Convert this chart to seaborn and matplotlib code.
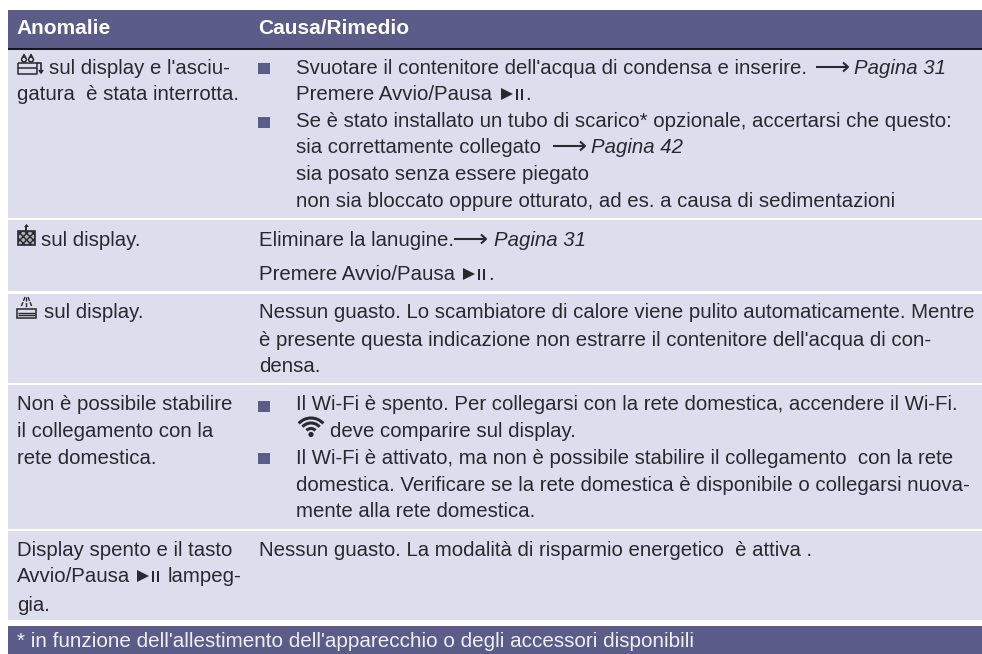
import matplotlib
matplotlib.use("Agg")
import matplotlib.pyplot as plt
from matplotlib.patches import Arc, Circle, Polygon, Rectangle
import seaborn as sns

sns.set_theme(style="white")
plt.rcParams["font.family"] = ["Liberation Sans", "DejaVu Sans"]

W, H = 982, 654
HEAD = "#5b5d88"
ROW = "#dcdeee"
INK = "#28282e"
FS = 14.7

header_cols = ["Anomalie", "Causa/Rimedio"]
footnote = "* in funzione dell'allestimento dell'apparecchio o degli accessori disponibili"

left_text = [
    "sul display e l'asciu-",
    "gatura  è stata interrotta.",
    "sul display.",
    "sul display.",
    "Non è possibile stabilire",
    "il collegamento con la",
    "rete domestica.",
    "Display spento e il tasto",
    "Avvio/Pausa",
    "lampeg-",
    "gia.",
]
right_text = [
    "Svuotare il contenitore dell'acqua di condensa e inserire.",
    "Premere Avvio/Pausa",
    "Se è stato installato un tubo di scarico* opzionale, accertarsi che questo:",
    "sia correttamente collegato",
    "sia posato senza essere piegato",
    "non sia bloccato oppure otturato, ad es. a causa di sedimentazioni",
    "Eliminare la lanugine.",
    "Premere Avvio/Pausa",
    "Nessun guasto. Lo scambiatore di calore viene pulito automaticamente. Mentre",
    "è presente questa indicazione non estrarre il contenitore dell'acqua di con-",
    "densa.",
    "Il Wi-Fi è spento. Per collegarsi con la rete domestica, accendere il Wi-Fi.",
    "deve comparire sul display.",
    "Il Wi-Fi è attivato, ma non è possibile stabilire il collegamento  con la rete",
    "domestica. Verificare se la rete domestica è disponibile o collegarsi nuova-",
    "mente alla rete domestica.",
    "Nessun guasto. La modalità di risparmio energetico  è attiva .",
]
page_refs = ["Pagina 31", "Pagina 42", "Pagina 31"]

# layout in picture pixels, y is the text baseline
left_x = [49, 17, 41, 44, 17, 17, 17, 17, 17, 168, 17]
left_y = [74, 100, 246, 318, 410, 437, 464, 556, 582, 582, 611]
right_x = [296, 296, 296, 296, 296, 296, 259, 259, 259, 259, 259,
           296, 330, 296, 296, 296, 259]
right_y = [74, 100, 127, 153, 180, 207, 246, 280, 318, 346, 372,
           410, 437, 464, 491, 517, 556]
row_top = [50, 220, 294, 385, 531]
row_bottom = [218, 291, 383, 529, 620]
bullet_y = [63, 117, 401, 453]
ref_arrow_x = [816, 553, 454]
ref_x = [854, 591, 494]
ref_y = [74, 153, 246]
play_pos = [(501, 100), (463, 280), (137, 582)]
period_pos = [(525, 100), (488, 280)]


def line(ax, xs, ys, lw=1.0):
    ax.plot(xs, ys, color=INK, lw=lw, solid_capstyle="butt")


def play_pause(ax, x, y):
    # play triangle followed by the two pause bars
    ax.add_patch(Polygon([(x, y - 12), (x, y), (x + 12, y - 6)], color=INK, lw=0))
    ax.add_patch(Rectangle((x + 15, y - 11), 2.4, 11, color=INK, lw=0))
    ax.add_patch(Rectangle((x + 20, y - 11), 2.4, 11, color=INK, lw=0))


def arrow(ax, x, y):
    line(ax, [x, x + 31], [y - 7, y - 7], 1.5)
    line(ax, [x + 27, x + 32, x + 27], [y - 11.5, y - 7, y - 2.5], 1.5)


def icon_water(ax, x, y):
    line(ax, [x, x + 19, x + 19, x, x], [y - 11, y - 11, y, y, y - 11], 1.1)
    line(ax, [x, x + 19], [y - 6, y - 6], 1.1)
    for dx in [6, 13]:
        ax.add_patch(Circle((x + dx, y - 14.5), 2.4, fc=ROW, ec=INK, lw=1.1))
        line(ax, [x + dx - 1.5, x + dx, x + dx + 1.5], [y - 16.5, y - 19.5, y - 16.5], 1.1)
    line(ax, [x + 19, x + 23, x + 23], [y - 11, y - 11, y - 1], 1.2)
    line(ax, [x + 21, x + 23, x + 25], [y - 4, y - 1, y - 4], 1.2)


def icon_filter(ax, x, y):
    ax.add_patch(Rectangle((x, y - 14), 17, 14, fc="#b0b0b8", ec=INK, lw=1.2, hatch="xxxxx"))
    line(ax, [x + 8.5, x + 8.5], [y - 19, y - 14], 1.4)
    ax.add_patch(Polygon([(x + 6, y - 18), (x + 11, y - 18), (x + 8.5, y - 21)], color=INK, lw=0))


def icon_exchanger(ax, x, y):
    ax.add_patch(Rectangle((x, y - 9), 19, 9, fc=ROW, ec=INK, lw=1.1))
    line(ax, [x + 1, x + 18], [y - 5, y - 5], 1.0)
    line(ax, [x + 1, x + 18], [y - 3, y - 3], 1.0)
    for x0, x1 in [(x + 8, x + 4), (x + 9.5, x + 9.5), (x + 11, x + 15)]:
        ax.plot([x0, x1], [y - 21, y - 11], color=INK, lw=1.0, ls=(0, (3, 1)))


def icon_wifi(ax, cx, cy):
    for d in [12, 23, 33]:
        ax.add_patch(Arc((cx, cy), d, d, theta1=222, theta2=318, color=INK, lw=2.2))
    ax.add_patch(Circle((cx, cy), 2.6, color=INK, lw=0))


fig = plt.figure(figsize=(W / 100, H / 100), dpi=100)
ax = fig.add_axes([0, 0, 1, 1])
ax.set_xlim(0, W)
ax.set_ylim(H, 0)
ax.axis("off")

ax.add_patch(Rectangle((8, 10), 974, 38, color=HEAD, lw=0))
ax.add_patch(Rectangle((8, 48), 974, 1.5, color="#15151f", lw=0))
for t, b in zip(row_top, row_bottom):
    ax.add_patch(Rectangle((8, t), 974, b - t, color=ROW, lw=0))
ax.add_patch(Rectangle((8, 626), 974, 28, color=HEAD, lw=0))

for x, label in zip([16.5, 258], header_cols):
    ax.text(x, 34, label, color="white", fontsize=15, fontweight="bold", va="baseline")
for x, y, s in zip(left_x, left_y, left_text):
    ax.text(x, y, s, color=INK, fontsize=FS, va="baseline")
for x, y, s in zip(right_x, right_y, right_text):
    ax.text(x, y, s, color=INK, fontsize=FS, va="baseline")
for y in bullet_y:
    ax.add_patch(Rectangle((258, y), 12, 11, color=HEAD, lw=0))
for x, rx, y, s in zip(ref_arrow_x, ref_x, ref_y, page_refs):
    arrow(ax, x, y)
    ax.text(rx, y, s, color=INK, fontsize=FS, style="italic", va="baseline")
for x, y in play_pos:
    play_pause(ax, x, y)
for x, y in period_pos:
    ax.text(x, y, ".", color=INK, fontsize=FS, va="baseline")

icon_water(ax, 18, 74)
icon_filter(ax, 18, 245)
icon_exchanger(ax, 17, 318)
icon_wifi(ax, 311, 434.5)

ax.text(17, 647, footnote, color="#eeeef6", fontsize=14.9, va="baseline")
fig.savefig("out.png", dpi=100)
